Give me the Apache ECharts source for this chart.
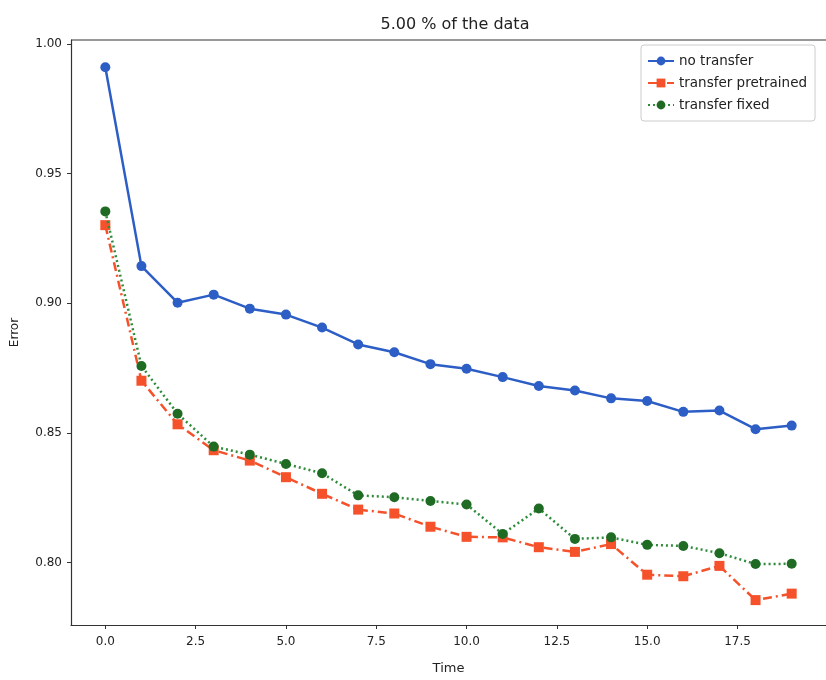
<!DOCTYPE html>
<html>
<head>
<meta charset="utf-8">
<script src="https://cdn.jsdelivr.net/npm/echarts@6/dist/echarts.min.js"></script>
<style>html,body{margin:0;padding:0;background:#fff}#c{width:826px;height:680px}</style>
</head>
<body>
<div id="c"></div>
<script>
const times = [0,1,2,3,4,5,6,7,8,9,10,11,12,13,14,15,16,17,18,19];
const noTransfer = [0.991,0.9143,0.9002,0.9033,0.8979,0.8956,0.8906,0.8841,0.8811,0.8765,0.8747,0.8715,0.8681,0.8663,0.8633,0.8623,0.8581,0.8586,0.8514,0.8528];
const transferPretrained = [0.9301,0.8701,0.8533,0.8433,0.8393,0.8329,0.8265,0.8204,0.8189,0.8138,0.8099,0.8097,0.8059,0.8041,0.8071,0.7953,0.7947,0.7987,0.7855,0.7880];
const transferFixed = [0.9354,0.8758,0.8574,0.8447,0.8416,0.8380,0.8344,0.8259,0.8252,0.8237,0.8224,0.8110,0.8208,0.8091,0.8097,0.8068,0.8064,0.8036,0.7994,0.7995];
const xTicks = [0,2.5,5,7.5,10,12.5,15,17.5];
const yTicks = [0.80,0.85,0.90,0.95,1.00];
const seriesNames = ['no transfer','transfer pretrained','transfer fixed'];

const pair = arr => times.map((t,i)=>[t,arr[i]]);
const font = 'DejaVu Sans';
const chart = echarts.init(document.getElementById('c'));
chart.setOption({
  backgroundColor:'#fff',
  animation:false,
  title:{text:'5.00 % of the data',left:450,textAlign:'center',top:12,
    textStyle:{fontFamily:font,fontSize:16,fontWeight:'normal',color:'#222'}},
  legend:{orient:'vertical',left:641,top:45,padding:[9,8,9,6],itemGap:8,itemWidth:26,itemHeight:11,
    borderColor:'#ccc',borderWidth:1,borderRadius:3,
    textStyle:{fontFamily:font,fontSize:13.5,color:'#222'},data:seriesNames},
  grid:{left:71,top:40,width:758,height:589},
  xAxis:{type:'value',min:-0.95,max:19.95,name:'Time',nameLocation:'middle',nameGap:37,
    nameTextStyle:{fontFamily:font,fontSize:13,color:'#222'},
    splitLine:{show:false},
    axisLine:{show:true,onZero:false,lineStyle:{color:'#333',width:1.2}},
    axisTick:{show:true,length:4,customValues:xTicks,lineStyle:{color:'#333'}},
    axisLabel:{customValues:xTicks,fontFamily:font,fontSize:12,color:'#222',margin:11,formatter:v=>v.toFixed(1)}},
  yAxis:{type:'value',min:0.7759,max:1.0015,name:'Error',nameLocation:'middle',nameGap:50,
    nameTextStyle:{fontFamily:font,fontSize:12,color:'#222'},
    splitLine:{show:false},
    axisLine:{show:true,onZero:false,lineStyle:{color:'#333',width:1.2}},
    axisTick:{show:true,length:4,customValues:yTicks,lineStyle:{color:'#333'}},
    axisLabel:{customValues:yTicks,fontFamily:font,fontSize:12,color:'#222',margin:9,formatter:v=>v.toFixed(2)}},
  series:[
    {name:seriesNames[0],type:'line',data:pair(noTransfer),symbol:'circle',symbolSize:10,
      lineStyle:{color:'#2d5ec6',width:2.5},itemStyle:{color:'#2d5ec6'},z:3},
    {name:seriesNames[1],type:'line',data:pair(transferPretrained),symbol:'rect',symbolSize:10,
      lineStyle:{color:'#f5512b',width:2.5,type:[9,4,2,4]},itemStyle:{color:'#f5512b'},z:2},
    {name:seriesNames[2],type:'line',data:pair(transferFixed),symbol:'circle',symbolSize:10,
      lineStyle:{color:'#2e8b3a',width:2.5,type:[2,3]},itemStyle:{color:'#1f6b24'},z:4}
  ],
  graphic:[{type:'line',shape:{x1:71,y1:40,x2:829,y2:40},style:{stroke:'#333',lineWidth:1.2},z:10}]
});
</script>
</body>
</html>
